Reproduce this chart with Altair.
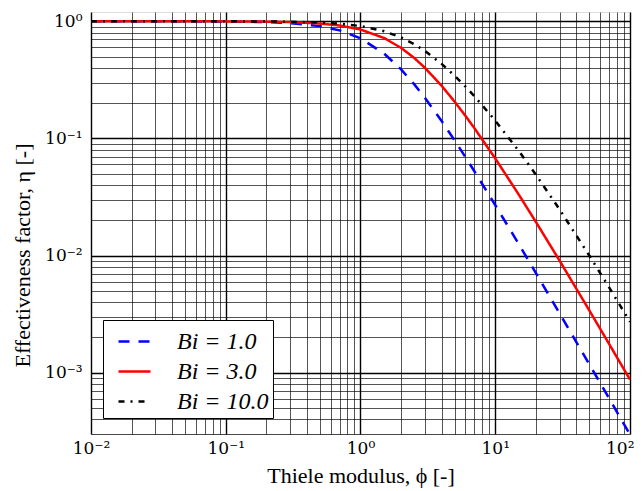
import altair as alt
import pandas as pd

# Thiele modulus values (x) and effectiveness factors
phi = [0.01, 0.02, 0.05, 0.1, 0.2, 0.3, 0.5, 0.7, 1.0, 1.5, 2.0, 2.5, 3.0, 4.0,
       5.0, 6.0, 7.0, 10.0, 15.0, 20.0, 30.0, 50.0, 70.0, 100.0]
eta_bi1 = [1.0, 0.99984, 0.99900, 0.9960, 0.9842, 0.9653, 0.9092, 0.8365, 0.7152,
           0.5288, 0.3885, 0.29057, 0.2228, 0.14066, 0.0960, 0.069445, 0.052478,
           0.027, 0.012444, 0.007125, 0.0032222, 0.001176, 0.0006035, 0.000297]
eta_bi3 = [1.0, 0.99994, 0.99955, 0.9982, 0.9929, 0.9843, 0.9576, 0.9203, 0.8504,
           0.7188, 0.5934, 0.48718, 0.4018, 0.28138, 0.20572, 0.15625, 0.122449,
           0.0675, 0.032941, 0.019432, 0.0090625, 0.0033923, 0.0017602, 0.00087353]
eta_bi10 = [1.0, 0.99997, 0.99975, 0.9990, 0.9960, 0.9911, 0.9757, 0.9537, 0.9106,
            0.8222, 0.7278, 0.63836, 0.5590, 0.43299, 0.34288, 0.27778, 0.229592,
            0.142105, 0.077778, 0.049138, 0.024786, 0.0099661, 0.0053475, 0.0027248]

series_names = ["Bi = 1.0", "Bi = 3.0", "Bi = 10.0"]
series_colors = ["#0000ff", "#ff0000", "#000000"]
series_dashes = [[11, 9], [1, 0], [6, 6, 2, 6]]

x_major = [0.01, 0.1, 1, 10, 100]
x_major_labels = ["10⁻²", "10⁻¹", "10⁰", "10¹", "10²"]
y_major = [0.001, 0.01, 0.1, 1]
y_major_labels = ["10⁻³", "10⁻²", "10⁻¹", "10⁰"]

rows = []
for name, vals in zip(series_names, [eta_bi1, eta_bi3, eta_bi10]):
    for p, e in zip(phi, vals):
        rows.append({"phi": p, "eta": e, "series": name})
df = pd.DataFrame(rows)

x_grid = [m * 10 ** d for d in range(-2, 2) for m in range(1, 10)] + [100]
y_grid = [m * 10 ** d for d in range(-4, 0) for m in range(1, 10) if m * 10 ** d >= 3e-4] + [1]


def label_expr(vals, labels):
    s = ""
    for v, l in zip(vals, labels):
        s += f"abs(datum.value / {v} - 1) < 1e-6 ? '{l}' : "
    return s + "''"


major_test = "abs(log(datum.value) / LN10 - round(log(datum.value) / LN10)) < 1e-6"
last_test = "datum.value >= 99"

font = "Liberation Serif"
tick_font = "DejaVu Serif"

x_axis = alt.Axis(
    values=x_grid, labelExpr=label_expr(x_major, x_major_labels),
    title="Thiele modulus, ϕ [-]", ticks=False, labelPadding=6,
    gridColor="#000000",
    gridWidth={"condition": {"test": major_test, "value": 1.4}, "value": 0.9},
    gridOpacity={"condition": {"test": major_test, "value": 1.0}, "value": 0.75},
    labelAlign={"condition": {"test": last_test, "value": "right"}, "value": "center"},
    labelOffset={"condition": {"test": last_test, "value": 4}, "value": 0},
    labelFontSize=17, titleFontSize=22, labelFont=tick_font, titleFont=font,
    labelColor="black", titleColor="black", titleFontWeight="normal",
    titlePadding=9, domain=False, labelFlush=False, labelOverlap=False,
)
y_axis = alt.Axis(
    values=y_grid, labelExpr=label_expr(y_major, y_major_labels),
    title="Effectiveness factor, η [-]", ticks=False, labelPadding=9,
    gridColor="#000000",
    gridWidth={"condition": {"test": major_test, "value": 1.4}, "value": 0.9},
    gridOpacity={"condition": {"test": major_test, "value": 1.0}, "value": 0.75},
    labelFontSize=17, titleFontSize=22, labelFont=tick_font, titleFont=font,
    labelColor="black", titleColor="black", titleFontWeight="normal",
    titlePadding=10, titleY=243, domain=False, labelFlush=False, labelOverlap=False,
)

chart = alt.Chart(df).mark_line(strokeWidth=2.5, clip=True).encode(
    x=alt.X("phi:Q", scale=alt.Scale(type="log", domain=[0.01, 100], nice=False), axis=x_axis),
    y=alt.Y("eta:Q", scale=alt.Scale(type="log", domain=[3e-4, 1.2], nice=False), axis=y_axis),
    color=alt.Color("series:N", sort=series_names,
                    scale=alt.Scale(domain=series_names, range=series_colors),
                    legend=alt.Legend(
                        title=None, orient="none", legendX=12, legendY=308,
                        symbolType="stroke", symbolSize=1024, symbolStrokeWidth=2.5,
                        symbolOffset=10,
                        labelFont=font, labelFontSize=24, labelFontStyle="italic",
                        labelColor="black", labelOffset=25,
                        fillColor="white", strokeColor="black",
                        padding=4, rowPadding=0, labelLimit=300,
                    )),
    strokeDash=alt.StrokeDash("series:N", sort=series_names,
                              scale=alt.Scale(domain=series_names, range=series_dashes),
                              legend=None),
    order=alt.Order("phi:Q"),
).properties(
    width=539, height=422, autosize="none",
    padding={"left": 83, "top": 4, "right": 5, "bottom": 57},
).configure_view(stroke="black", strokeWidth=2).configure_legend(
    strokeWidth=2
).configure(background="white")

chart.save("out.html", embed_options={"renderer": "svg", "actions": False})
